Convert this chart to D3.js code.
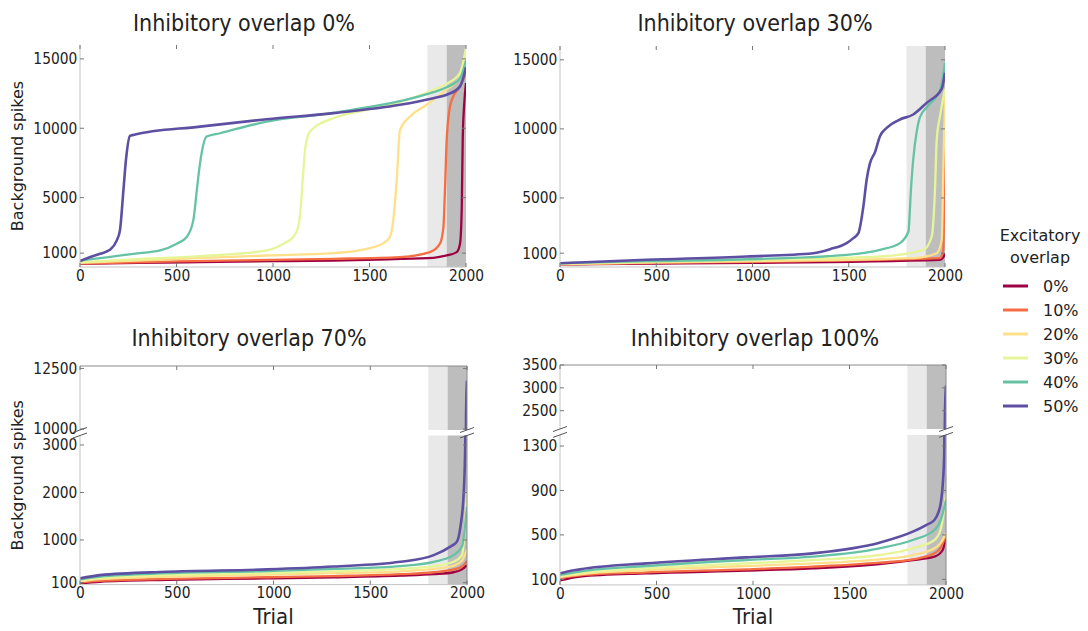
<!DOCTYPE html>
<html>
<head>
<meta charset="utf-8">
<script src="https://cdn.jsdelivr.net/npm/d3@7"></script>
<style>
  html, body { margin: 0; padding: 0; background: #fff; }
  text { font-family: "DejaVu Sans", sans-serif; fill: #222; }
</style>
</head>
<body>
<script>
// Excitatory overlap levels and their colours (Spectral ramp)
const overlapLabels = ["0%", "10%", "20%", "30%", "40%", "50%"];
const overlapColors = ["#9e0142", "#f46d43", "#fee08b", "#e6f598", "#66c2a5", "#5e4fa2"];

const panelTitles = ["Inhibitory overlap 0%", "Inhibitory overlap 30%",
                     "Inhibitory overlap 70%", "Inhibitory overlap 100%"];
const trialTicks = [0, 500, 1000, 1500, 2000];

// Background spikes per sorted trial, [trial, spikes], one series per excitatory overlap
const inhib0 = [
  [[0,220],[300,300],[622,350],[1000,420],[1313,470],[1600,560],[1831,660],[1900,830],[1952,1070],[1969,1680],[1978,4330],[1983,9160],[1991,11810],[2000,13260]],
  [[0,250],[500,400],[1000,520],[1313,590],[1658,710],[1813,1070],[1865,1680],[1883,2880],[1891,5540],[1900,9160],[1917,11570],[1934,12290],[1969,13020],[2000,14000]],
  [[0,300],[400,520],[967,830],[1313,1000],[1485,1310],[1572,1720],[1606,2160],[1623,3360],[1641,6260],[1658,9880],[1710,10850],[1796,11690],[1831,12050],[1900,12800],[1969,13700],[2000,15300]],
  [[0,350],[300,560],[622,780],[967,1190],[1054,1680],[1105,2160],[1131,2900],[1145,4500],[1155,6500],[1166,8430],[1185,9600],[1210,10000],[1313,10720],[1485,11320],[1658,11900],[1831,12750],[1900,13200],[1969,14000],[2000,15800]],
  [[0,470],[138,700],[276,950],[415,1190],[501,1680],[553,2160],[587,3360],[605,5500],[613,6500],[630,8190],[656,9400],[725,9640],[967,10480],[1313,11100],[1485,11500],[1658,11950],[1831,12600],[1900,12950],[1969,13600],[2000,14900]],
  [[0,420],[50,700],[104,950],[155,1240],[190,1900],[207,2640],[225,5540],[238,7700],[259,9450],[276,9520],[622,10120],[967,10650],[1313,11090],[1658,11690],[1831,12170],[1900,12410],[1969,13020],[2000,14400]]
];
const inhib30 = [
  [[0,180],[500,250],[1000,300],[1974,520],[1995,800],[2000,1000]],
  [[0,200],[500,300],[1000,380],[1974,640],[1991,1240],[2000,11280]],
  [[0,200],[500,330],[1000,420],[1835,640],[1957,1000],[1983,1970],[1991,6810],[2000,12500]],
  [[0,250],[500,400],[1000,520],[1662,760],[1888,1240],[1931,2210],[1948,5600],[1957,9220],[1974,10920],[2000,12900]],
  [[0,275],[450,420],[970,560],[1489,880],[1662,1240],[1766,1730],[1810,2570],[1823,5580],[1835,7800],[1853,9800],[1870,10850],[1906,11580],[1974,12800],[2000,14800]],
  [[0,275],[450,520],[970,760],[1316,1000],[1403,1290],[1489,1730],[1524,2090],[1550,2450],[1576,4390],[1593,6320],[1610,7500],[1636,8300],[1662,9470],[1697,10070],[1766,10680],[1835,11040],[1906,11900],[1983,12900],[2000,14060]]
];
const inhib70 = [
  [[0,90],[103,120],[448,160],[966,190],[1310,215],[1655,250],[1828,280],[1931,320],[1974,380],[2000,470]],
  [[0,105],[103,140],[448,180],[966,215],[1310,240],[1655,280],[1828,320],[1931,380],[1974,440],[2000,560]],
  [[0,130],[103,175],[448,230],[966,270],[1310,300],[1655,340],[1828,390],[1931,460],[1974,560],[2000,800]],
  [[0,150],[103,200],[448,260],[966,300],[1310,340],[1655,390],[1828,450],[1931,540],[1974,680],[2000,2000]],
  [[0,170],[103,230],[448,300],[966,345],[1310,390],[1655,450],[1828,540],[1931,680],[1974,860],[2000,1700]],
  [[0,190],[103,260],[448,330],[966,380],[1310,440],[1655,540],[1828,680],[1914,860],[1948,965],[1966,1280],[1983,1990],[1991,3040],[1995,10500],[2000,12000]]
];
const inhib100 = [
  [[0,90],[103,125],[448,154],[966,178],[1310,199],[1655,238],[1828,274],[1940,304],[1983,364],[2000,500]],
  [[0,110],[103,135],[448,163],[966,190],[1310,214],[1655,250],[1828,280],[1940,334],[1974,390],[2000,500]],
  [[0,120],[103,145],[448,184],[966,220],[1310,244],[1655,280],[1828,319],[1940,379],[1974,430],[2000,514]],
  [[0,130],[103,155],[448,199],[966,244],[1310,274],[1655,319],[1828,379],[1940,454],[1974,560],[2000,874]],
  [[0,140],[103,170],[448,220],[966,274],[1310,304],[1655,379],[1828,454],[1940,544],[1974,640],[2000,814]],
  [[0,154],[34,169],[103,190],[448,244],[966,298],[1310,334],[1655,430],[1828,529],[1897,589],[1940,634],[1960,700],[1974,800],[1983,950],[1991,1250],[1995,2500],[2000,3050]]
];

// Trials highlighted by the two grey bands
const lightBand = [1800, 1900];
const darkBand = [1900, 2000];

// Y-axis segments (upper segment first); broken axes use two
const yAxes0 = [{ domain: [0, 16000], ticks: [1000, 5000, 10000, 15000] }];
const yAxes30 = [{ domain: [0, 16000], ticks: [1000, 5000, 10000, 15000] }];
const yAxes70 = [{ domain: [9960, 12600], ticks: [10000, 12500] },
                 { domain: [60, 3200], ticks: [100, 1000, 2000, 3000] }];
const yAxes100 = [{ domain: [2100, 3500], ticks: [2500, 3000, 3500] },
                  { domain: [50, 1400], ticks: [100, 500, 900, 1300] }];

const W = 1088, H = 631;
const svg = d3.select("body").append("svg").attr("width", W).attr("height", H);

const panels = [
  { title: panelTitles[0], series: inhib0, axes: yAxes0, x: [80, 466], bands: [[267, 45]], frame: false,
    titleX: 244, titleY: 31, ylabel: true, xlabel: false },
  { title: panelTitles[1], series: inhib30, axes: yAxes30, x: [560, 945], bands: [[267, 46]], frame: false,
    titleX: 755, titleY: 31, ylabel: false, xlabel: false },
  { title: panelTitles[2], series: inhib70, axes: yAxes70, x: [80, 467], bands: [[430, 366], [584.6, 435.5]], frame: true,
    titleX: 249, titleY: 346, ylabel: true, xlabel: true },
  { title: panelTitles[3], series: inhib100, axes: yAxes100, x: [560, 946], bands: [[429, 365], [584.9, 434.9]], frame: true,
    titleX: 755, titleY: 346, ylabel: false, xlabel: true }
];

const TICK_FONT = 15, TICK_SX = 0.92;

panels.forEach((p, pi) => {
  const g = svg.append("g");
  const x = d3.scaleLinear().domain([0, 2000]).range(p.x);
  const xl = p.x[0], xr = p.x[1];
  const nSeg = p.axes.length;

  p.axes.forEach((ax, si) => {
    const [yb, yt] = p.bands[si];
    const y = d3.scaleLinear().domain(ax.domain).range([yb, yt]);
    const clipId = `clip-${pi}-${si}`;
    svg.append("clipPath").attr("id", clipId)
      .append("rect").attr("x", xl).attr("y", yt).attr("width", xr - xl).attr("height", yb - yt);

    const seg = g.append("g");
    // grey trial bands
    seg.append("rect").attr("x", x(lightBand[0])).attr("width", x(lightBand[1]) - x(lightBand[0]))
      .attr("y", yt).attr("height", yb - yt).attr("fill", "#e9e9e9");
    seg.append("rect").attr("x", x(darkBand[0])).attr("width", x(darkBand[1]) - x(darkBand[0]))
      .attr("y", yt).attr("height", yb - yt).attr("fill", "#bdbdbd");

    // curves
    const line = d3.line().x(d => x(d[0])).y(d => y(d[1])).curve(d3.curveMonotoneX);
    const lines = seg.append("g").attr("clip-path", `url(#${clipId})`);
    p.series.forEach((s, i) => {
      lines.append("path").attr("d", line(s)).attr("fill", "none")
        .attr("stroke", overlapColors[i]).attr("stroke-width", i === 5 ? 2.6 : 2.3)
        .attr("stroke-linejoin", "round");
    });

    // spines
    const isTop = si === 0, isBottom = si === nSeg - 1;
    const spineLight = "#c4c4c4", spineDark = "#8a8a8a";
    seg.append("line").attr("x1", xl).attr("x2", xl).attr("y1", yt).attr("y2", yb).attr("stroke", spineLight);
    if (isBottom) seg.append("line").attr("x1", xl).attr("x2", xr).attr("y1", yb).attr("y2", yb).attr("stroke", spineLight);
    if (p.frame) {
      seg.append("line").attr("x1", xr).attr("x2", xr).attr("y1", yt).attr("y2", yb).attr("stroke", spineDark);
      if (isTop) seg.append("line").attr("x1", xl).attr("x2", xr).attr("y1", yt).attr("y2", yt).attr("stroke", spineDark);
    }

    // inward tick marks on left and right
    ax.ticks.forEach(t => {
      seg.append("line").attr("x1", xl).attr("x2", xl + 4).attr("y1", y(t)).attr("y2", y(t)).attr("stroke", "#777");
      seg.append("line").attr("x1", xr - 4).attr("x2", xr).attr("y1", y(t)).attr("y2", y(t)).attr("stroke", "#777");
    });
    if (isTop) trialTicks.forEach(t => {
      seg.append("line").attr("x1", x(t)).attr("x2", x(t)).attr("y1", yt).attr("y2", yt + 4).attr("stroke", "#777");
    });
    if (isBottom) trialTicks.forEach(t => {
      seg.append("line").attr("x1", x(t)).attr("x2", x(t)).attr("y1", yb).attr("y2", yb - 4).attr("stroke", "#777");
    });

    // y tick labels
    const yAxis = seg.append("g").attr("transform", `translate(${xl},0)`)
      .call(d3.axisLeft(y).tickValues(ax.ticks).tickSize(0).tickPadding(3).tickFormat(d3.format("d")));
    yAxis.select(".domain").remove();
    yAxis.selectAll("text").attr("font-size", TICK_FONT).attr("font-family", "DejaVu Sans")
      .attr("fill", "#222").attr("transform", `scale(${TICK_SX},1)`);

    if (isBottom) {
      const xAxis = seg.append("g").attr("transform", `translate(0,${yb})`)
        .call(d3.axisBottom(x).tickValues(trialTicks).tickSize(0).tickPadding(3).tickFormat(d3.format("d")));
      xAxis.select(".domain").remove();
      xAxis.selectAll("text").attr("font-size", TICK_FONT).attr("font-family", "DejaVu Sans")
        .attr("fill", "#222").attr("transform", `scale(${TICK_SX},1)`);
    }
  });

  // break marks between the two segments of a broken axis
  if (nSeg === 2) {
    const marks = [p.bands[0][0], p.bands[1][1]];
    [xl, xr].forEach(xx => marks.forEach(yy => {
      g.append("line").attr("x1", xx - 7).attr("y1", yy + 2.5).attr("x2", xx + 7).attr("y2", yy - 2.5)
        .attr("stroke", "#555").attr("stroke-width", 1);
    }));
  }

  // title
  g.append("text").attr("transform", `translate(${p.titleX},${p.titleY}) scale(0.88,1)`)
    .attr("text-anchor", "middle").attr("font-size", 23.5).text(p.title);

  // axis labels
  const yTop = p.bands[0][1], yBot = p.bands[nSeg - 1][0];
  if (p.ylabel) {
    g.append("text").attr("transform", `translate(23,${(yTop + yBot) / 2}) rotate(-90)`)
      .attr("text-anchor", "middle").attr("font-size", 16).text("Background spikes");
  }
  if (p.xlabel) {
    g.append("text").attr("transform", `translate(${(xl + xr) / 2},624) scale(0.9,1)`)
      .attr("text-anchor", "middle").attr("font-size", 22).text("Trial");
  }
});

// legend
const legend = svg.append("g");
legend.append("text").attr("x", 1040).attr("y", 241).attr("text-anchor", "middle")
  .attr("font-size", 16).text("Excitatory");
legend.append("text").attr("x", 1040).attr("y", 263).attr("text-anchor", "middle")
  .attr("font-size", 16).text("overlap");
overlapLabels.forEach((lab, i) => {
  const yy = 286 + i * 24;
  legend.append("line").attr("x1", 1003).attr("x2", 1028).attr("y1", yy).attr("y2", yy)
    .attr("stroke", overlapColors[i]).attr("stroke-width", 3);
  legend.append("text").attr("x", 1043).attr("y", yy + 6).attr("font-size", 16).text(lab);
});
</script>
</body>
</html>
